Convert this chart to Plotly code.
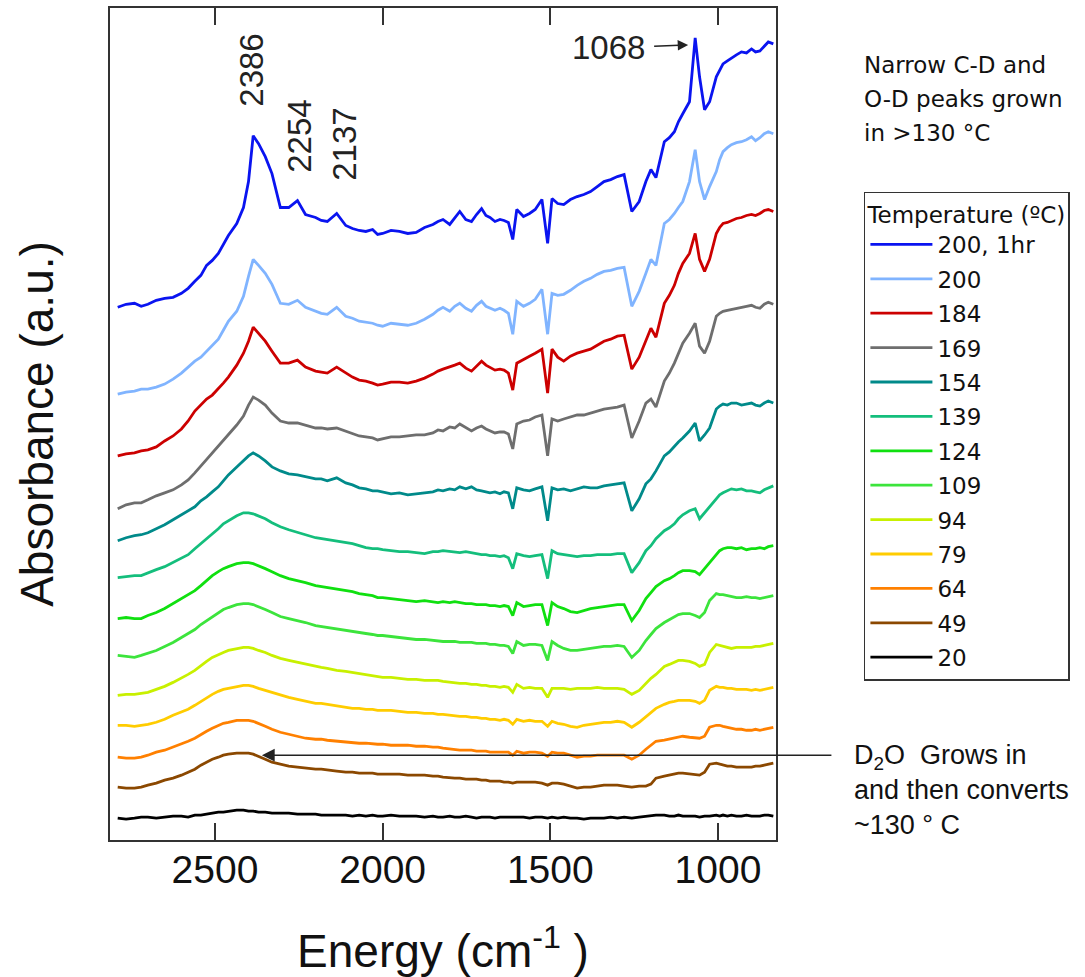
import plotly.graph_objects as go

# Wavenumber grid shared by all spectra (cm^-1)
wavenumber = [
    2790, 2765, 2740, 2720, 2700, 2675, 2650, 2625, 2600, 2580,
    2560, 2542, 2525, 2508, 2490, 2475, 2460, 2435, 2415, 2400,
    2386, 2370, 2350, 2330, 2305, 2280, 2254, 2230, 2200, 2183,
    2165, 2137, 2110, 2090, 2070, 2050, 2030, 2015, 2000, 1975,
    1950, 1925, 1900, 1875, 1850, 1835, 1820, 1800, 1785, 1770,
    1752, 1735, 1720, 1705, 1692, 1680, 1665, 1650, 1638, 1625,
    1612, 1600, 1580, 1562, 1545, 1525, 1508, 1495, 1478, 1460,
    1440, 1420, 1400, 1380, 1360, 1340, 1320, 1300, 1280, 1257,
    1235, 1215, 1200, 1185, 1160, 1145, 1130, 1118, 1105, 1085,
    1068, 1055, 1040, 1025, 1005, 995, 985, 972, 960, 945,
    930, 915, 900, 888, 875, 862, 850, 835,
]

# Absorbance (arbitrary units); spectra are stacked with a vertical offset
abs_200_1hr = [
    534, 537, 538, 535, 537, 541, 543, 544, 548, 553,
    560, 566, 576, 581, 588, 597, 606, 618, 634, 660,
    706, 698, 685, 668, 634, 634, 641, 627, 624, 621,
    620, 628, 616, 613, 611, 610, 612, 607, 608, 611,
    610, 608, 609, 614, 617, 620, 622, 617, 624, 630,
    622, 620, 627, 633, 626, 624, 620, 622, 621, 619,
    602, 632, 625, 628, 632, 642, 598, 643, 638, 637,
    642, 645, 647, 650, 655, 660, 662, 665, 667, 630,
    640, 660, 672, 664, 700, 704, 710, 720, 728, 740,
    804, 765, 732, 740, 765, 772, 778, 781, 784, 787,
    790, 789, 793, 790, 791, 796, 800, 798,
]
abs_200 = [
    447, 449, 450, 452, 452, 454, 457, 462, 468, 474,
    480, 484, 490, 495, 502, 511, 520, 530, 545, 565,
    582, 576, 568, 557, 538, 537, 541, 534, 530, 528,
    527, 534, 525, 523, 520, 519, 518, 516, 515, 518,
    517, 516, 518, 522, 527, 531, 534, 530, 535, 538,
    533, 530, 536, 540, 535, 533, 531, 533, 531, 528,
    507, 540, 535, 538, 542, 552, 507, 548, 546, 547,
    551, 556, 560, 563, 567, 570, 571, 573, 574, 535,
    550, 568, 582, 576, 618, 622, 628, 634, 640, 660,
    692, 660, 642, 655, 670, 682, 690, 694, 697, 699,
    700, 702, 705, 701, 704, 708, 710, 708,
]
abs_184 = [
    385, 387, 388, 390, 391, 394, 400, 405, 412, 420,
    430, 436, 442, 446, 452, 458, 464, 476, 488, 500,
    514, 508, 500, 490, 478, 478, 481, 474, 470, 469,
    468, 474, 468, 464, 461, 460, 458, 456, 457, 459,
    459, 458, 460, 463, 467, 470, 472, 474, 476, 478,
    473, 470, 475, 480, 476, 474, 471, 472, 471, 468,
    451, 478, 482, 485, 488, 492, 448, 492, 484, 480,
    485, 488, 490, 492, 496, 500, 502, 505, 506, 472,
    484, 500, 513, 504, 538, 546, 556, 568, 578, 588,
    608, 582, 570, 582, 608, 614, 618, 619, 621, 623,
    624, 626, 627, 626, 628, 631, 632, 630,
]
abs_169 = [
    332, 336, 338, 338, 341, 345, 348, 351, 356, 361,
    368, 375, 382, 388, 395, 401, 407, 416, 425, 436,
    444, 441, 436, 428, 420, 418, 418, 416, 413, 413,
    412, 413, 410, 407, 405, 404, 403, 401, 402, 404,
    404, 405, 406, 406, 408, 411, 410, 414, 413, 417,
    413, 410, 413, 415, 412, 410, 408, 409, 409, 407,
    392, 417, 420, 421, 424, 426, 385, 422, 420, 422,
    424, 426, 426, 428, 430, 432, 433, 434, 436, 403,
    420, 438, 442, 434, 460, 468, 478, 488, 498, 508,
    518, 495, 488, 500, 525, 528, 530, 531, 532, 533,
    534, 535, 536, 534, 533, 537, 539, 537,
]
abs_154 = [
    300, 303, 305, 306, 308, 312, 316, 321, 326, 330,
    334, 340, 344, 349, 354, 360, 366, 374, 380, 385,
    388, 385, 380, 374, 370, 367, 366, 364, 362, 362,
    360, 363, 358, 356, 353, 352, 350, 350, 349, 347,
    348, 346, 347, 348, 349, 351, 350, 352, 351, 354,
    352, 354, 351, 350, 349, 348, 349, 347, 349, 348,
    332, 353, 351, 350, 352, 354, 320, 353, 351, 352,
    350, 352, 354, 353, 353, 355, 356, 357, 358, 330,
    342, 357, 362, 370, 385, 389, 395, 399, 403, 410,
    418, 400, 406, 413, 432, 435, 437, 436, 438, 438,
    436, 437, 438, 436, 435, 438, 440, 438,
]
abs_139 = [
    263, 264, 265, 265, 268, 271, 274, 278, 282, 286,
    292, 297, 302, 307, 312, 317, 320, 325, 328, 328,
    327, 325, 322, 318, 314, 311, 308, 306, 303, 302,
    301, 300, 298, 297, 295, 293, 292, 292, 291, 290,
    289, 289, 288, 287, 289, 289, 290, 289, 289, 288,
    289, 288, 287, 286, 286, 285, 285, 284, 285, 283,
    272, 287, 285, 284, 285, 286, 262, 290, 287, 286,
    285, 284, 285, 285, 286, 286, 286, 287, 287, 268,
    278, 290, 295, 302, 310, 313, 317, 322, 326, 330,
    332, 322, 328, 335, 343, 346, 348, 350, 352, 351,
    352, 350, 350, 349, 348, 351, 353, 355,
]
abs_124 = [
    222, 223, 222, 222, 225, 228, 232, 237, 242, 246,
    250, 255, 260, 265, 269, 272, 274, 277, 278, 278,
    277, 275, 272, 269, 265, 262, 260, 258, 255, 254,
    253, 252, 250, 249, 247, 246, 245, 243, 243, 242,
    241, 240, 239, 240, 239, 238, 239, 238, 239, 238,
    237, 237, 236, 236, 236, 235, 235, 234, 235, 234,
    225, 238, 234, 235, 236, 236, 215, 238, 234, 232,
    229, 228, 230, 232, 233, 234, 235, 236, 236, 220,
    230, 242, 248, 254, 260, 262, 265, 268, 270, 270,
    269, 266, 272, 278, 287, 290, 292, 293, 293, 292,
    293, 291, 292, 292, 293, 292, 294, 295,
]
abs_109 = [
    185, 184, 183, 185, 187, 190, 194, 198, 203, 207,
    211, 216, 220, 224, 228, 231, 233, 236, 237, 237,
    236, 234, 231, 228, 224, 222, 220, 218, 215, 214,
    213, 212, 210, 209, 208, 207, 206, 205, 205, 204,
    203, 202, 201, 201, 200, 200, 199, 199, 199, 198,
    198, 198, 197, 197, 197, 196, 196, 195, 195, 194,
    187, 199, 195, 196, 196, 195, 180, 199, 195, 192,
    190, 190, 191, 192, 193, 194, 194, 195, 194, 183,
    190, 200, 206, 212, 218, 221, 224, 226, 227, 227,
    225, 223, 228, 240, 247, 246, 246, 245, 244, 243,
    243, 244, 243, 243, 242, 243, 244, 245,
]
abs_94 = [
    145, 146, 146, 147, 148, 151, 154, 158, 162, 166,
    170, 175, 179, 183, 186, 188, 190, 192, 193, 193,
    192, 190, 188, 185, 182, 180, 178, 176, 174, 173,
    172, 170, 169, 168, 167, 166, 165, 164, 163, 163,
    162, 161, 161, 160, 160, 160, 159, 158, 158, 157,
    157, 156, 156, 155, 155, 154, 154, 153, 154, 153,
    148, 156, 152, 153, 152, 152, 143, 152, 152, 152,
    151, 152, 152, 152, 153, 152, 152, 152, 151, 146,
    150, 157, 162, 166, 174, 176, 178, 180, 180, 179,
    177, 174, 176, 188, 196, 195, 194, 193, 192, 193,
    193, 193, 193, 194, 194, 195, 196, 197,
]
abs_79 = [
    115, 115, 114, 115, 116, 118, 121, 125, 128, 131,
    135, 139, 143, 146, 149, 151, 152, 154, 155, 155,
    154, 152, 150, 148, 145, 143, 141, 139, 137, 137,
    136, 134, 133, 132, 132, 131, 131, 130, 130, 130,
    129, 128, 128, 127, 127, 126, 126, 125, 125, 124,
    124, 123, 123, 122, 122, 121, 121, 120, 121, 120,
    116, 121, 119, 120, 119, 119, 114, 119, 117, 116,
    114, 113, 115, 116, 117, 118, 118, 119, 118, 113,
    118, 124, 128, 132, 136, 138, 139, 140, 140, 140,
    139, 137, 140, 150, 154, 153, 153, 152, 152, 151,
    151, 151, 150, 151, 150, 151, 152, 153,
]
abs_64 = [
    83, 82, 82, 83, 85, 88, 90, 93, 96, 99,
    102, 106, 109, 112, 115, 117, 118, 120, 120, 120,
    119, 117, 114, 111, 108, 106, 104, 102, 101, 101,
    100, 99, 98, 98, 97, 97, 96, 96, 96, 95,
    95, 95, 94, 94, 93, 93, 92, 91, 91, 90,
    90, 90, 89, 89, 89, 88, 88, 88, 88, 88,
    85, 89, 87, 88, 88, 87, 84, 88, 87, 87,
    85, 83, 84, 84, 85, 85, 85, 85, 85, 81,
    85, 91, 95, 99, 100, 101, 102, 103, 104, 103,
    102, 102, 104, 113, 115, 115, 114, 113, 112, 111,
    111, 110, 110, 111, 110, 111, 112, 113,
]
abs_49 = [
    53, 52, 52, 53, 55, 57, 60, 62, 65, 68,
    71, 75, 78, 81, 83, 85, 86, 87, 87, 87,
    86, 84, 81, 78, 76, 74, 73, 72, 71, 71,
    70, 69, 68, 68, 67, 67, 67, 66, 66, 66,
    66, 65, 65, 65, 64, 64, 63, 62, 62, 62,
    61, 61, 61, 60, 60, 59, 59, 59, 58, 58,
    57, 58, 58, 58, 58, 57, 55, 57, 57, 56,
    54, 52, 53, 53, 54, 55, 55, 55, 54, 53,
    54, 54, 56, 62, 64, 65, 66, 67, 67, 66,
    65, 65, 68, 76, 77, 76, 75, 74, 74, 73,
    73, 73, 73, 74, 74, 75, 76, 77,
]
abs_20 = [
    22, 21, 22, 23, 23, 22, 23, 24, 24, 23,
    25, 25, 26, 27, 28, 28, 29, 30, 30, 29,
    29, 28, 28, 27, 27, 27, 26, 26, 26, 25,
    25, 25, 25, 24, 25, 24, 25, 24, 24, 25,
    24, 24, 24, 23, 24, 23, 23, 24, 23, 23,
    24, 23, 22, 23, 23, 23, 22, 23, 23, 23,
    23, 23, 23, 22, 23, 23, 22, 23, 22, 23,
    22, 22, 21, 22, 22, 22, 23, 22, 23, 22,
    23, 24, 25, 25, 25, 24, 24, 25, 24, 24,
    24, 23, 24, 24, 25, 24, 25, 24, 25, 24,
    24, 25, 24, 24, 24, 25, 25, 24,
]

temperature_labels = ["200, 1hr", "200", "184", "169", "154", "139", "124",
                      "109", "94", "79", "64", "49", "20"]
spectra = [abs_200_1hr, abs_200, abs_184, abs_169, abs_154, abs_139, abs_124,
           abs_109, abs_94, abs_79, abs_64, abs_49, abs_20]
line_colors = ["#0a14f0", "#80b4ff", "#cc0000", "#6e6e6e", "#008a8a", "#14be7c",
               "#10e010", "#3ce43c", "#c8f000", "#ffcc00", "#ff8000", "#8b4800",
               "#000000"]

tick_values = [2500, 2000, 1500, 1000]
tick_labels = ["2500", "2000", "1500", "1000"]

peak_labels = [("2386", 2390, 772), ("2254", 2246, 705), ("2137", 2112, 697)]

for name, values in zip(temperature_labels, spectra):
    if len(values) != len(wavenumber):
        raise ValueError(f"spectrum {name}: {len(values)} points, grid has {len(wavenumber)}")

axis_font = "Liberation Sans, Arial, Helvetica, sans-serif"
note_font = "DejaVu Sans, Verdana, sans-serif"
frame = "#333333"

fig = go.Figure()
for name, values, color in zip(temperature_labels, spectra, line_colors):
    fig.add_trace(go.Scatter(
        x=wavenumber, y=values, mode="lines", name=name,
        legendgroup=name,
        line=dict(color=color, width=2.8),
    ))

annotations = []
for text, xv, yv in peak_labels:
    annotations.append(dict(
        x=xv, y=yv, xref="x", yref="y", text=text, showarrow=False,
        textangle=-90, font=dict(family=axis_font, size=33, color="#222"),
    ))

# 1068 narrow peak marker
annotations.append(dict(
    x=1089, y=797, xref="x", yref="y", text="1068", showarrow=True,
    ax=-80, ay=3, axref="pixel", ayref="pixel", startstandoff=8,
    arrowhead=2, arrowsize=1.3, arrowwidth=1.6, arrowcolor="#222",
    font=dict(family=axis_font, size=33, color="#222"),
))

# D2O arrow (tail outside the plot area, head on the 49 °C band)
annotations.append(dict(
    x=2360, y=85, xref="x", yref="y", text="", showarrow=True,
    ax=571, ay=0, axref="pixel", ayref="pixel",
    arrowhead=2, arrowsize=1.6, arrowwidth=1.6, arrowcolor="#222",
))
annotations.append(dict(
    x=1.114, y=(840 - 790) / 834, xref="paper", yref="paper",
    xanchor="left", yanchor="middle", align="left", showarrow=False,
    text="D<sub>2</sub>O\u00a0 Grows in<br>and then converts<br>~130 ° C",
    font=dict(family=axis_font, size=27, color="#111"),
))

note_lines = [("Narrow C-D and", 63), ("O-D peaks grown", 97), ("in >130 °C", 131)]
for text, ypx in note_lines:
    annotations.append(dict(
        x=1.129, y=(840 - ypx) / 834, xref="paper", yref="paper",
        xanchor="left", yanchor="middle", showarrow=False, text=text,
        font=dict(family=note_font, size=23, color="#111"),
    ))

fig.update_layout(
    width=1085, height=977,
    margin=dict(l=110, r=309, t=6, b=137, pad=0),
    paper_bgcolor="white", plot_bgcolor="white",
    showlegend=True,
    legend=dict(
        x=1.132, y=(840 - 190) / 834, xanchor="left", yanchor="top",
        bordercolor=frame, borderwidth=1.5, bgcolor="white",
        font=dict(family=note_font, size=23, color="#111"),
        title=dict(text="Temperature (ºC)", font=dict(family=note_font, size=23, color="#111")),
        tracegroupgap=1.5, itemwidth=62,
    ),
    annotations=annotations,
    xaxis=dict(
        range=[2813, 827], tickvals=tick_values, ticktext=tick_labels,
        ticks="inside", ticklen=17, tickwidth=1.5, tickcolor=frame,
        showline=True, linecolor=frame, linewidth=2, mirror="ticks",
        showgrid=False, zeroline=False, ticklabelstandoff=-6,
        tickfont=dict(family=axis_font, size=39, color="#111"),
        title=dict(text="Energy (cm<sup>-1</sup> )", standoff=46,
                   font=dict(family=axis_font, size=46, color="#111")),
    ),
    yaxis=dict(
        range=[0, 834], showticklabels=False, ticks="",
        showline=True, linecolor=frame, linewidth=2, mirror=True,
        showgrid=False, zeroline=False,
        title=dict(text="Absorbance (a.u.)", standoff=40,
                   font=dict(family=axis_font, size=46, color="#111")),
    ),
)

fig.write_html("out.html")
